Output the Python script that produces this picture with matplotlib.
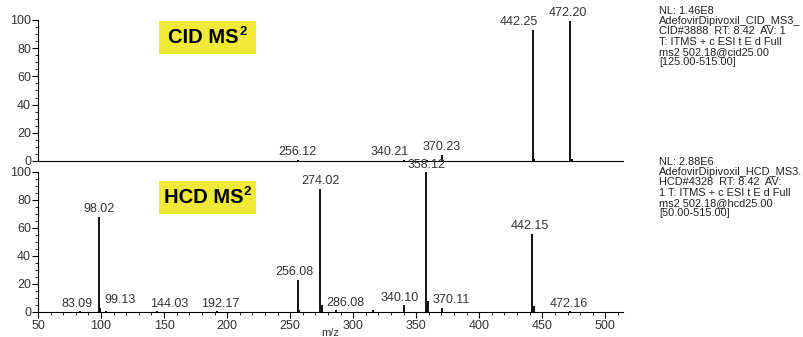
import numpy as np
import matplotlib
matplotlib.use('Agg')
import matplotlib.pyplot as plt
from matplotlib.ticker import MultipleLocator
from matplotlib.patches import Rectangle

plt.rcParams['font.family'] = ['Liberation Sans', 'DejaVu Sans']

############################################
# spectra
############################################
cid_mz = [256.12, 340.21, 358.2, 370.23, 442.25, 443.3, 472.20, 473.2]
cid_int = [1.0, 1.0, 1.0, 4.5, 93.0, 1.5, 99.5, 1.5]

hcd_mz = [83.09, 98.02, 99.13, 104.0, 144.03, 192.17, 256.08, 257.1, 274.02, 275.1,
          286.08, 315.5, 340.10, 357.4, 358.12, 359.1, 370.11, 442.15, 443.2, 472.16]
hcd_int = [0.5, 68.0, 3.0, 1.0, 0.5, 0.5, 23.0, 1.5, 88.0, 5.0,
           1.5, 1.5, 5.0, 1.5, 100.0, 8.0, 3.0, 56.0, 4.0, 0.5]

# labelled peaks: (m/z, label shift in m/z)
cid_labels = [256.12, 340.21, 370.23, 442.25, 472.20]
cid_shift = [0, -11, 0, -11, -2]
hcd_labels = [83.09, 98.02, 99.13, 144.03, 192.17, 256.08, 274.02, 286.08,
              340.10, 358.12, 370.11, 442.15, 472.16]
hcd_shift = [-2, 0, 16, 10, 2, -3, 0, 8, -3, 0, 8, -2, -1]

cid_info = ("NL: 1.46E8\nAdefovirDipivoxil_CID_MS3_\nCID#3888  RT: 8.42  AV: 1\n"
            "T: ITMS + c ESI t E d Full\nms2 502.18@cid25.00\n[125.00-515.00]")
hcd_info = ("NL: 2.88E6\nAdefovirDipivoxil_HCD_MS3.\nHCD#4328  RT: 8.42  AV:\n"
            "1 T: ITMS + c ESI t E d Full\nms2 502.18@hcd25.00\n[50.00-515.00]")

############################################
# figure
############################################
fig = plt.figure(figsize=(8.04, 3.37), dpi=100)
ax1 = fig.add_axes([38/804, 1-161/337, 585/804, 141/337])
ax2 = fig.add_axes([38/804, 1-312/337, 585/804, 140/337])

grey = '#333333'
yellow = '#EFE93A'


def draw_spec(ax, mz, inten, labs, shift, tag, box_y):
    ax.vlines(mz, 0, inten, color='k', lw=1.3)
    lookup = dict(zip(mz, inten))
    for m, s in zip(labs, shift):
        ax.text(m + s, lookup[m] + 1.0, '%.2f' % m, ha='center', va='bottom',
                fontsize=9, color=grey, clip_on=False)
    ax.set_xlim(50, 514)
    ax.set_ylim(0, 100)
    for sp in ['top', 'right']:
        ax.spines[sp].set_visible(False)
    ax.yaxis.set_major_locator(MultipleLocator(20))
    ax.yaxis.set_minor_locator(MultipleLocator(5))
    ax.tick_params(axis='y', which='major', direction='out', length=4,
                   labelsize=9, labelcolor=grey, pad=1)
    ax.tick_params(axis='y', which='minor', direction='out', length=2)
    # label box
    ax.add_patch(Rectangle((0.207, box_y - 0.117), 0.165, 0.234, transform=ax.transAxes,
                           facecolor=yellow, edgecolor='none', zorder=3))
    t = ax.text(0.283, box_y, tag + ' MS', transform=ax.transAxes, ha='center',
                va='center', fontsize=14.5, fontweight='bold', zorder=4)
    ax.annotate('2', xy=(1.0, 0.78), xycoords=t, xytext=(0.2, 0), textcoords='offset points',
                ha='left', va='center', fontsize=9.5, fontweight='bold', zorder=4)


draw_spec(ax1, cid_mz, cid_int, cid_labels, cid_shift, 'CID', 0.876)
draw_spec(ax2, hcd_mz, hcd_int, hcd_labels, hcd_shift, 'HCD', 0.82)

ax1.set_xticks([])
ax2.xaxis.set_major_locator(MultipleLocator(50))
ax2.xaxis.set_minor_locator(MultipleLocator(10))
ax2.tick_params(axis='x', which='major', direction='out', length=4,
                labelsize=9, labelcolor=grey, pad=2)
ax2.tick_params(axis='x', which='minor', direction='out', length=2)
ax2.set_xlabel('m/z', fontsize=8, color=grey, labelpad=-3)

fig.text(659/804, 1-6/337, cid_info, ha='left', va='top', fontsize=7.9,
         color='#222222', linespacing=1.03)
fig.text(659/804, 1-157/337, hcd_info, ha='left', va='top', fontsize=7.9,
         color='#222222', linespacing=1.03)

fig.savefig('out.png', dpi=100)
